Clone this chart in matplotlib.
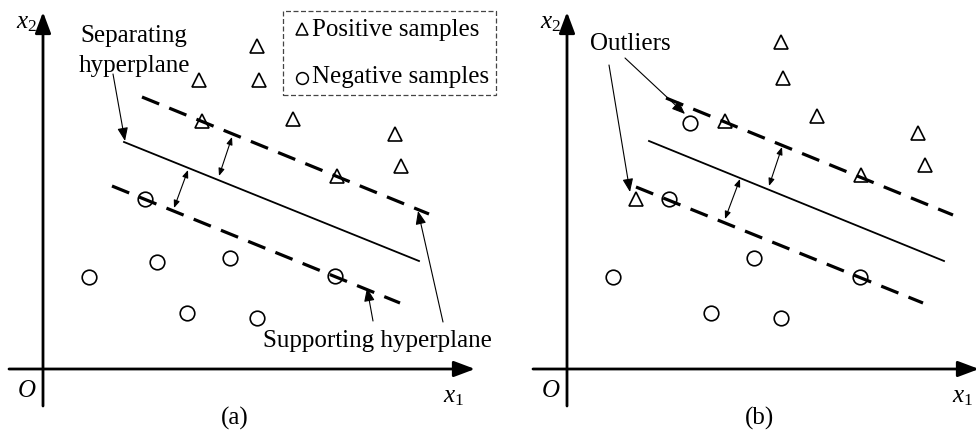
import matplotlib.pyplot as plt
from matplotlib.patches import Rectangle

plt.rcParams['font.family'] = ['Liberation Serif', 'DejaVu Serif']
plt.rcParams['mathtext.fontset'] = 'custom'
plt.rcParams['mathtext.rm'] = 'Liberation Serif'
plt.rcParams['mathtext.it'] = 'Liberation Serif:italic'

# sample points (x1, x2), origin at the axes corner
pos_a_x = [214, 156, 216, 159, 250, 352, 358, 294]
pos_a_y = [323, 289, 289, 248, 250, 235, 203, 193]
neg_a_x = [102, 46, 114, 187, 292, 144, 214]
neg_a_y = [170, 92, 107, 111, 93, 56, 51]

pos_b_x = [214, 216, 250, 158, 351, 358, 294, 69]
pos_b_y = [327, 291, 253, 248, 236, 204, 194, 170]
neg_b_x = [123, 102, 46, 187, 293, 144, 214]
neg_b_y = [246, 170, 92, 111, 92, 56, 51]

# hyperplanes: ([x start, x end], [y start, y end])
sep_a = ([81, 376], [227, 108])
upper_a = ([99, 386], [272, 155])
lower_a = ([69, 357], [183, 66])
sep_b = ([82, 377], [228, 108])
upper_b = ([99, 386], [271, 154])
lower_b = ([69, 356], [182, 66])

# margin arrows: (from, to)
margin_a = [((176, 193), (189, 232)), ((131, 161), (145, 199))]
margin_b = [((202, 183), (215, 222)), ((158, 150), (173, 190))]

FS = 18


def arrow(ax, start, end, style, lw, scale):
    ax.annotate('', xy=end, xytext=start, annotation_clip=False,
                arrowprops=dict(arrowstyle=style, color='k', lw=lw,
                                shrinkA=0, shrinkB=0, mutation_scale=scale))


def draw_panel(ax, pos_x, pos_y, neg_x, neg_y, sep, upper, lower, margins, x_end, x1_pos, label):
    ax.set_axis_off()
    # coordinate axes
    arrow(ax, (-34, 0), (x_end, 0), '-|>,head_length=0.8,head_width=0.3', 2, 16)
    arrow(ax, (0, -37), (0, 357), '-|>,head_length=0.8,head_width=0.3', 2, 16)
    ax.text(-27, 342, '$x_2$', fontsize=FS, ha='left', va='baseline')
    ax.text(-26, -27, '$O$', fontsize=FS, ha='left', va='baseline')
    ax.text(x1_pos, -32, '$x_1$', fontsize=FS, ha='left', va='baseline')
    ax.text(192, -55, label, fontsize=FS, ha='center', va='baseline')

    ax.plot(pos_x, pos_y, ls='none', marker='^', ms=10, mfc='white', mec='k', mew=1.2, zorder=2)
    ax.plot(neg_x, neg_y, ls='none', marker='o', ms=10.5, mfc='white', mec='k', mew=1.2, zorder=2)

    ax.plot(*sep, color='k', lw=1.3, zorder=3)
    for seg in (upper, lower):
        ax.plot(*seg, color='k', lw=2.3, ls=(0, (5.8, 3.4)), zorder=3)
    for start, end in margins:
        arrow(ax, start, end, '<|-|>,head_length=0.5,head_width=0.2', 0.8, 9)


fig = plt.figure(figsize=(9.76, 4.35), dpi=100)
ax1 = fig.add_axes([0, 0, 0.5, 1])
ax2 = fig.add_axes([0.5, 0, 0.5, 1])
ax1.set_xlim(-43, 445)
ax1.set_ylim(-65, 370)
ax2.set_xlim(-79, 409)
ax2.set_ylim(-65, 370)

draw_panel(ax1, pos_a_x, pos_a_y, neg_a_x, neg_a_y, sep_a, upper_a, lower_a, margin_a, 432, 400, '(a)')
draw_panel(ax2, pos_b_x, pos_b_y, neg_b_x, neg_b_y, sep_b, upper_b, lower_b, margin_b, 412, 385, '(b)')

# (a) annotations
ax1.text(91, 328, 'Separating', fontsize=FS, ha='center', va='baseline')
ax1.text(91, 298, 'hyperplane', fontsize=FS, ha='center', va='baseline')
arrow(ax1, (70, 295), (82, 228), '-|>,head_length=0.5,head_width=0.2', 0.8, 16)
ax1.text(220, 23, 'Supporting hyperplane', fontsize=FS, ha='left', va='baseline')
arrow(ax1, (330, 48), (324, 81), '-|>,head_length=0.5,head_width=0.2', 0.8, 16)
arrow(ax1, (400, 47), (375, 158), '-|>,head_length=0.5,head_width=0.2', 0.8, 16)

# legend box
ax1.add_patch(Rectangle((240, 274), 213, 84, fill=False, ec='#444444', lw=0.9,
                        ls=(0, (4, 2)), clip_on=False))
ax1.plot([259], [340], marker='^', ms=8, mfc='white', mec='k', mew=1.1)
ax1.plot([259], [291], marker='o', ms=8.5, mfc='white', mec='k', mew=1.1)
ax1.text(269, 334, 'Positive samples', fontsize=FS, ha='left', va='baseline')
ax1.text(269, 287, 'Negative samples', fontsize=FS, ha='left', va='baseline')

# (b) annotations
ax2.text(23, 320, 'Outliers', fontsize=FS, ha='left', va='baseline')
arrow(ax2, (58, 311), (118, 255), '-|>,head_length=0.5,head_width=0.2', 0.8, 16)
arrow(ax2, (42, 304), (63, 177), '-|>,head_length=0.5,head_width=0.2', 0.8, 16)

fig.savefig('out.png', dpi=100)
